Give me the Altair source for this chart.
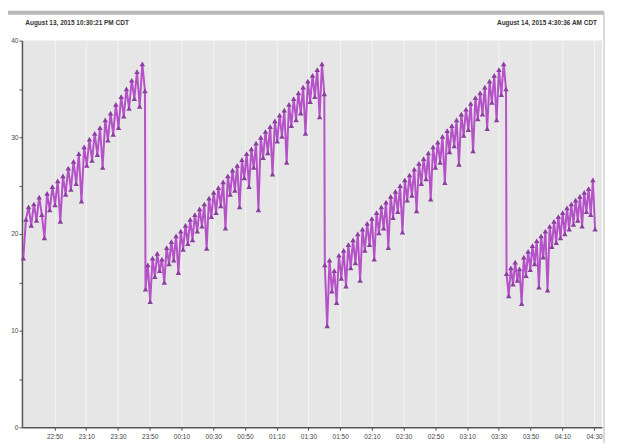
import altair as alt
import pandas as pd

# ---- data ----
seg_a_start, seg_a_end = "2015-08-13 22:30:21", "2015-08-13 23:47:00"
seg_a = [17.5, 21.5, 22.8, 20.9, 23.1, 21.4, 23.8, 22.0, 19.6, 24.2, 22.5, 24.9, 23.0, 25.5,
         21.3, 26.0, 24.1, 26.8, 24.6, 27.5, 25.2, 28.3, 23.4, 29.0, 27.1, 29.8, 27.6, 30.4,
         28.2, 31.0, 26.9, 31.8, 29.7, 32.5, 30.3, 33.4, 31.0, 34.2, 32.2, 35.0, 33.0, 35.9,
         34.0, 36.8, 33.2, 37.6, 34.8]

seg_b_start, seg_b_end = "2015-08-13 23:47:20", "2015-08-14 01:40:00"
seg_b = [14.3, 16.8, 13.0, 17.5, 15.6, 18.0, 16.2, 17.4, 15.0, 18.6, 16.9, 19.2, 17.3, 19.8,
         16.0, 20.3, 18.4, 20.9, 19.0, 21.5, 19.4, 22.0, 20.3, 22.6, 20.8, 23.1, 18.5, 23.7,
         21.8, 24.3, 22.2, 24.8, 22.9, 25.4, 20.6, 26.0, 24.1, 26.6, 24.5, 27.1, 22.8, 27.7,
         25.8, 28.3, 24.9, 28.8, 26.9, 29.4, 22.5, 30.0, 27.9, 30.6, 28.4, 31.1, 26.2, 31.7,
         29.6, 32.3, 30.1, 32.8, 27.4, 33.4, 31.2, 34.0, 31.8, 34.6, 32.5, 35.2, 30.4, 35.8,
         33.7, 36.4, 34.2, 37.0, 32.1, 37.6, 34.5]

seg_c_start, seg_c_end = "2015-08-14 01:40:20", "2015-08-14 03:34:30"
seg_c = [16.8, 10.5, 17.3, 14.1, 16.2, 12.9, 17.8, 15.4, 18.3, 14.6, 18.9, 16.5, 19.4, 17.0,
         20.0, 15.2, 20.5, 18.3, 21.1, 18.9, 21.6, 17.4, 22.2, 20.1, 22.8, 20.6, 23.3, 18.6,
         23.9, 21.7, 24.4, 22.3, 25.0, 20.2, 25.6, 23.5, 26.1, 24.0, 26.7, 22.4, 27.3, 25.2,
         27.8, 25.7, 28.4, 23.6, 29.0, 26.9, 29.5, 27.4, 30.1, 25.3, 30.7, 28.5, 31.2, 29.1,
         31.8, 27.2, 32.4, 30.2, 32.9, 30.8, 33.5, 28.6, 34.1, 31.9, 34.6, 32.4, 35.2, 30.9,
         35.8, 33.6, 36.4, 31.8, 37.0, 34.4, 37.6, 35.0]

seg_d_start, seg_d_end = "2015-08-14 03:34:50", "2015-08-14 04:30:36"
seg_d = [15.9, 13.6, 16.5, 14.8, 17.1, 15.2, 16.4, 12.8, 17.6, 15.7, 18.2, 16.3, 18.8, 16.9,
         19.3, 14.5, 19.8, 17.6, 20.3, 14.2, 20.8, 18.7, 21.3, 19.1, 21.8, 19.6, 22.2, 20.0,
         22.7, 20.5, 23.1, 21.0, 23.5, 21.4, 23.9, 20.8, 24.3, 22.3, 24.7, 22.0, 25.6, 20.5]

x_tick_times = ["2015-08-13 22:50", "2015-08-13 23:10", "2015-08-13 23:30", "2015-08-13 23:50",
                "2015-08-14 00:10", "2015-08-14 00:30", "2015-08-14 00:50", "2015-08-14 01:10",
                "2015-08-14 01:30", "2015-08-14 01:50", "2015-08-14 02:10", "2015-08-14 02:30",
                "2015-08-14 02:50", "2015-08-14 03:10", "2015-08-14 03:30", "2015-08-14 03:50",
                "2015-08-14 04:10", "2015-08-14 04:30"]
x_domain = ["2015-08-13 22:29:30", "2015-08-14 04:35:00"]
y_ticks = [0, 5, 10, 15, 20, 25, 30, 35, 40]
header_left = "August 13, 2015 10:30:21 PM CDT"
header_right = "August 14, 2015 4:30:36 AM CDT"

def ms(s):
    return int(pd.Timestamp(s, tz="UTC").value // 10**6)

# ---- build table ----
frames = []
for s, e, vals in [(seg_a_start, seg_a_end, seg_a), (seg_b_start, seg_b_end, seg_b),
                   (seg_c_start, seg_c_end, seg_c), (seg_d_start, seg_d_end, seg_d)]:
    ts = pd.date_range(s, e, periods=len(vals), tz="UTC")
    frames.append(pd.DataFrame({"t": (ts.asi8 // 10**6).astype("int64"), "v": vals}))
df = pd.concat(frames, ignore_index=True)

x_vals = [ms(s) for s in x_tick_times]
xscale = alt.Scale(type="utc", domain=[ms(s) for s in x_domain])
yscale = alt.Scale(domain=[0, 40], nice=False)

x_axis = alt.Axis(values=x_vals, tickCount=30, format="%H:%M", title=None, grid=True,
                  gridColor="#f4f4f4", gridWidth=1, labelOverlap=False, labelPadding=3)
y_axis = alt.Axis(values=y_ticks, tickCount=20, title=None, grid=False, labelPadding=1,
                  labelExpr="datum.value % 10 == 0 ? datum.label : ''")

base = alt.Chart(df).encode(
    x=alt.X("t:T", scale=xscale, axis=x_axis),
    y=alt.Y("v:Q", scale=yscale, axis=y_axis),
)

line = base.mark_line(color="#b552c8", strokeWidth=2)
pts = base.mark_point(shape="triangle-up", filled=True, size=30, color="#8c3ea1", opacity=1)

hdr_l = alt.Chart(pd.DataFrame({"t": [ms(seg_a_start)], "s": [header_left]})).mark_text(
    align="left", baseline="middle", fontSize=6.5, fontWeight="bold", color="#333", dx=2,
    font="Liberation Sans"
).encode(x=alt.X("t:T", scale=xscale), y=alt.value(-18), text="s:N")

hdr_r = alt.Chart(pd.DataFrame({"t": [ms(seg_d_end)], "s": [header_right]})).mark_text(
    align="right", baseline="middle", fontSize=6.5, fontWeight="bold", color="#333", dx=2,
    font="Liberation Sans"
).encode(x=alt.X("t:T", scale=xscale), y=alt.value(-18), text="s:N")

top_bar = alt.Chart(pd.DataFrame({"a": [0]})).mark_rule(color="#b8b8b8", strokeWidth=4).encode(
    x=alt.value(-16), x2=alt.value(584), y=alt.value(-28))
right_edge = alt.Chart(pd.DataFrame({"a": [0]})).mark_rule(color="#cfcfcf", strokeWidth=1.5).encode(
    x=alt.value(584), y=alt.value(-28), y2=alt.value(404))

chart = alt.layer(top_bar, right_edge, line, pts, hdr_l, hdr_r).properties(
    width=582, height=388,
    autosize=alt.AutoSizeParams(type="none"),
    padding={"left": 14, "top": 32, "right": 10, "bottom": 18},
).configure(background="white").configure_view(fill="#e6e6e6", strokeWidth=0).configure_axis(
    labelFont="Liberation Sans", labelFontSize=6.5, labelColor="#444", domainColor="#555",
    domainWidth=1.5, tickColor="#555", tickSize=3
).configure_axisX(labelOverlap=False)

chart.save("out.html", embed_options={"renderer": "svg", "actions": False})
